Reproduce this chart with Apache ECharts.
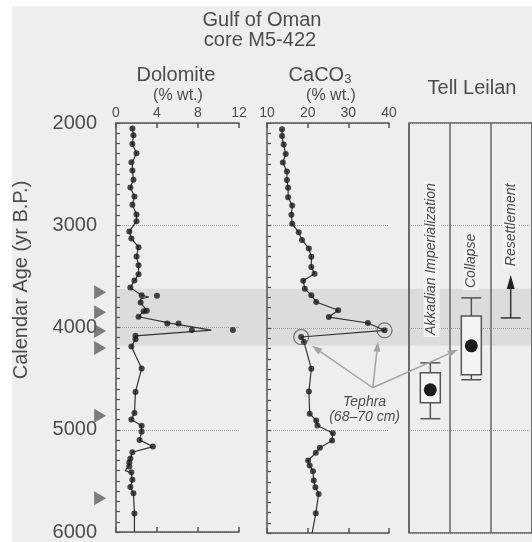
<!DOCTYPE html>
<html>
<head>
<meta charset="utf-8">
<script src="https://cdn.jsdelivr.net/npm/echarts@6.0.0/dist/echarts.min.js"></script>
<style>
html, body { margin: 0; padding: 0; background: #fff; }
#chart { width: 532px; height: 542px; }
</style>
</head>
<body>
<div id="chart"></div>
<script>
var FONT = '"Liberation Sans", Arial, sans-serif',
    TEXT = '#4d4d4d',
    AXIS = '#555';

// Dolomite (% wt.) samples: [age yr B.P., value]
var dolomitePoints = [
    [2055, 1.6], [2120, 1.7], [2205, 1.6], [2295, 2.0], [2385, 1.5], [2465, 1.6],
    [2555, 1.7], [2630, 1.4], [2720, 1.8], [2800, 1.6], [2895, 2.0], [2960, 2.0],
    [3060, 1.3], [3130, 1.5], [3215, 2.2], [3305, 2.0], [3390, 2.2], [3480, 2.2],
    [3540, 1.8], [3610, 1.4], [3685, 2.5], [3690, 4.0], [3755, 2.4], [3835, 3.0],
    [3840, 2.7], [3895, 2.2], [3960, 5.0], [3960, 6.1], [4025, 7.4], [4025, 11.4],
    [4080, 1.9], [4115, 1.9], [4185, 1.5], [4400, 2.5], [4630, 1.9], [4835, 1.8],
    [4900, 1.5], [4960, 2.5], [5020, 2.5], [5100, 2.3], [5165, 3.6], [5220, 1.6],
    [5280, 1.4], [5320, 1.3], [5360, 1.3], [5415, 1.5], [5490, 1.6], [5560, 1.4],
    [5620, 1.7], [5820, 1.8]
];
// smoothed dolomite curve
var dolomiteCurve = [
    [2055, 1.6], [2120, 1.7], [2205, 1.6], [2295, 2.0], [2385, 1.6], [2465, 1.6],
    [2555, 1.7], [2630, 1.4], [2720, 1.8], [2800, 1.6], [2895, 2.0], [2960, 2.0],
    [3060, 1.3], [3130, 1.5], [3215, 2.2], [3305, 2.0], [3390, 2.2], [3480, 2.2],
    [3540, 1.8], [3610, 1.4], [3685, 2.5], [3702, 3.2], [3720, 2.4], [3760, 2.4],
    [3830, 3.0], [3850, 2.6], [3895, 2.2], [3960, 5.4], [4026, 9.3], [4081, 1.9],
    [4115, 1.9], [4185, 1.5], [4400, 2.5], [4630, 1.9], [4835, 1.8], [4900, 1.5],
    [4960, 2.5], [5020, 2.5], [5100, 2.3], [5165, 3.6], [5220, 1.6], [5280, 1.4],
    [5360, 1.2], [5400, 0.9], [5420, 1.5], [5490, 1.6], [5560, 1.4], [5620, 1.7],
    [5820, 1.8], [6000, 1.8]
];
// CaCO3 (% wt.) samples: [age yr B.P., value]
var caco3Points = [
    [2062, 13.7], [2128, 13.7], [2210, 14.1], [2303, 14.6], [2385, 13.9], [2474, 14.9],
    [2556, 14.9], [2632, 15.2], [2724, 15.2], [2806, 16.2], [2895, 16.0], [2984, 16.2],
    [3066, 17.8], [3141, 18.6], [3224, 20.3], [3306, 20.9], [3405, 20.9], [3470, 21.7],
    [3540, 18.9], [3616, 19.3], [3681, 20.9], [3746, 22.1], [3827, 27.5], [3893, 25.2],
    [3951, 34.8], [4023, 38.9], [4088, 18.4], [4137, 19.1], [4397, 20.9], [4619, 20.3],
    [4837, 20.5], [4902, 22.1], [4951, 22.4], [5026, 26.2], [5098, 26.0], [5169, 23.0],
    [5218, 22.0], [5293, 20.1], [5342, 20.5], [5397, 21.3], [5489, 21.5], [5554, 21.9],
    [5619, 22.7], [5808, 22.0]
];
var caco3End = [6000, 21.1];
// tephra layer (68-70 cm)
var tephraPoints = [[4023, 38.9], [4088, 18.4]];
// dated levels (triangles on the age axis)
var datedAges = [3655, 3850, 4035, 4200, 4863, 5671];
// dry event band
var eventBand = [3620, 4175];

// Tell Leilan: [column, whisker top, box top, mean, box bottom, whisker bottom]
var leilanBoxes = [
    [0.52, 4340, 4437, 4603, 4729, 4885],
    [1.52, 3706, 3882, 4174, 4456, 4505]
];
var resettlement = [[2.48, 3902, 3483]];   // [column, base, arrow tip]
var leilanPhases = ['Akkadian Imperialization', 'Collapse', 'Resettlement'];
var phaseLabelPos = [[0.55, 4088], [1.52, 3630], [2.48, 3416]];

var ageTicks = { min: 2000, max: 6000, interval: 1000, minor: 100 };

function flip(list) {
    return list.map(function (d) { return [d[1], d[0]]; });
}

function ageAxis(gridIndex, showLabels) {
    return {
        type: 'value', gridIndex: gridIndex, inverse: true, position: 'left',
        min: ageTicks.min, max: ageTicks.max, interval: ageTicks.interval,
        axisLine: { show: gridIndex < 2, lineStyle: { color: AXIS, width: 1.5 } },
        axisTick: { show: false },
        axisLabel: { show: showLabels, fontSize: 20, color: TEXT, fontFamily: FONT, margin: 19,
                     formatter: function (v) { return String(v); } },
        splitLine: { show: true, lineStyle: { color: '#9a9a9a', type: 'dotted', width: 1 } }
    };
}

// 100-yr inward ticks on the age axis
function ageTickAxis(gridIndex) {
    return {
        type: 'value', gridIndex: gridIndex, inverse: true, position: 'left',
        min: ageTicks.min, max: ageTicks.max, interval: ageTicks.minor,
        axisLine: { show: false },
        axisTick: { show: true, inside: true, length: 4, lineStyle: { color: AXIS, width: 1.2 } },
        axisLabel: { show: false },
        splitLine: { show: false }
    };
}

function pctAxis(gridIndex, pos, min, max, interval, showLabels) {
    return {
        type: 'value', gridIndex: gridIndex, position: pos,
        min: min, max: max, interval: interval,
        axisLine: { show: true, onZero: false, lineStyle: { color: AXIS, width: 1.5 } },
        axisTick: { show: true, inside: true, length: 5, lineStyle: { color: AXIS, width: 1.5 } },
        axisLabel: { show: showLabels, fontSize: 14, color: TEXT, fontFamily: FONT, margin: 3 },
        splitLine: { show: false }
    };
}

function renderBox(params, api) {
    var col = api.value(0);
    var cTop = api.coord([col, api.value(1)]),
        bTop = api.coord([col, api.value(2)]),
        mid = api.coord([col, api.value(3)]),
        bBot = api.coord([col, api.value(4)]),
        cBot = api.coord([col, api.value(5)]);
    var x = cTop[0], hw = 10;
    var st = { stroke: AXIS, lineWidth: 1.5 };
    return {
        type: 'group',
        children: [
            { type: 'line', shape: { x1: x, y1: cTop[1], x2: x, y2: bTop[1] }, style: st },
            { type: 'line', shape: { x1: x - hw, y1: cTop[1], x2: x + hw, y2: cTop[1] }, style: st },
            { type: 'line', shape: { x1: x, y1: bBot[1], x2: x, y2: cBot[1] }, style: st },
            { type: 'line', shape: { x1: x - hw, y1: cBot[1], x2: x + hw, y2: cBot[1] }, style: st },
            { type: 'rect', shape: { x: x - hw, y: bTop[1], width: 2 * hw, height: bBot[1] - bTop[1] },
              style: { stroke: AXIS, lineWidth: 1.5, fill: '#f4f4f4' } },
            { type: 'circle', shape: { cx: x, cy: mid[1], r: 6.5 }, style: { fill: '#1c1c1c' } }
        ]
    };
}

function renderUpArrow(params, api) {
    var base = api.coord([api.value(0), api.value(1)]),
        tip = api.coord([api.value(0), api.value(2)]);
    var x = base[0];
    return {
        type: 'group',
        children: [
            { type: 'line', shape: { x1: x - 10, y1: base[1], x2: x + 10, y2: base[1] }, style: { stroke: '#333', lineWidth: 1.5 } },
            { type: 'line', shape: { x1: x, y1: base[1], x2: x, y2: tip[1] + 12 }, style: { stroke: '#333', lineWidth: 1.5 } },
            { type: 'polygon', shape: { points: [[x, tip[1]], [x - 4, tip[1] + 14], [x + 4, tip[1] + 14]] }, style: { fill: '#222' } }
        ]
    };
}

function renderPhase(params, api) {
    var p = api.coord([api.value(0), api.value(1)]);
    return {
        type: 'text', x: p[0], y: p[1], rotation: Math.PI / 2,
        style: {
            text: leilanPhases[params.dataIndex], font: 'italic 14px ' + FONT, fill: TEXT,
            align: 'left', verticalAlign: 'middle', backgroundColor: '#f3f3f3', padding: [1, 2]
        }
    };
}

var option = {
    backgroundColor: '#eeeeee',
    animation: false,
    grid: [
        { left: 116, top: 123, width: 123, height: 410 },
        { left: 267, top: 123, width: 122, height: 410 },
        { left: 409, top: 123, width: 126, height: 410, show: true, borderColor: AXIS, borderWidth: 1.5, backgroundColor: 'transparent' }
    ],
    xAxis: [
        pctAxis(0, 'top', 0, 12, 4, true),
        pctAxis(0, 'bottom', 0, 12, 4, false),
        pctAxis(1, 'top', 10, 40, 10, true),
        pctAxis(1, 'bottom', 10, 40, 10, false),
        {
            type: 'value', gridIndex: 2, min: 0, max: 3, interval: 1, position: 'top',
            axisLine: { show: false }, axisTick: { show: false }, axisLabel: { show: false },
            splitLine: { show: true, lineStyle: { color: '#666', width: 1.5 } }
        }
    ],
    yAxis: [ageAxis(0, true), ageAxis(1, false), ageAxis(2, false), ageTickAxis(0), ageTickAxis(1)],
    series: [
        {
            type: 'line', xAxisIndex: 0, yAxisIndex: 0, data: flip(dolomiteCurve),
            showSymbol: false, lineStyle: { color: '#333', width: 1.2 }, z: 3
        },
        {
            type: 'scatter', xAxisIndex: 0, yAxisIndex: 0, data: flip(dolomitePoints),
            symbolSize: 6, itemStyle: { color: '#1c1c1c' }, z: 4
        },
        {
            type: 'scatter', xAxisIndex: 0, yAxisIndex: 0, clip: false,
            data: datedAges.map(function (a) { return [-1.55, a]; }),
            symbol: 'triangle', symbolRotate: -90, symbolSize: [14, 12],
            itemStyle: { color: '#5f5f5f' }
        },
        {
            type: 'line', xAxisIndex: 2, yAxisIndex: 1, data: flip(caco3Points.concat([caco3End])),
            showSymbol: false, lineStyle: { color: '#333', width: 1.2 }, z: 3
        },
        {
            type: 'scatter', xAxisIndex: 2, yAxisIndex: 1, data: flip(caco3Points),
            symbolSize: 6, itemStyle: { color: '#1c1c1c' }, z: 4
        },
        {
            type: 'scatter', xAxisIndex: 2, yAxisIndex: 1, data: flip(tephraPoints),
            symbol: 'circle', symbolSize: 15,
            itemStyle: { color: 'rgba(0,0,0,0)', borderColor: '#555', borderWidth: 1.2 }, z: 5
        },
        {
            type: 'custom', xAxisIndex: 4, yAxisIndex: 2, data: phaseLabelPos,
            renderItem: renderPhase, z: 3
        },
        {
            type: 'custom', xAxisIndex: 4, yAxisIndex: 2, data: leilanBoxes,
            encode: { x: 0, y: [1, 2, 3, 4, 5] }, renderItem: renderBox, z: 4
        },
        {
            type: 'custom', xAxisIndex: 4, yAxisIndex: 2, data: resettlement,
            encode: { x: 0, y: [1, 2] }, renderItem: renderUpArrow, z: 4
        }
    ]
};

var chart = echarts.init(document.getElementById('chart'));
chart.setOption(option);

function px(grid, x, age) {
    return chart.convertToPixel({ gridIndex: grid }, [x, age]);
}

function arrow(p0, p1) {
    var dx = p1[0] - p0[0], dy = p1[1] - p0[1];
    var len = Math.sqrt(dx * dx + dy * dy), ux = dx / len, uy = dy / len;
    var hl = 10, hw = 3.5;
    var bx = p1[0] - ux * hl, by = p1[1] - uy * hl;
    return [
        { type: 'line', shape: { x1: p0[0], y1: p0[1], x2: bx, y2: by },
          style: { stroke: '#a3a3a3', lineWidth: 1.5 }, z: 20 },
        { type: 'polygon', shape: { points: [p1, [bx - uy * hw, by + ux * hw], [bx + uy * hw, by - ux * hw]] },
          style: { fill: '#a3a3a3' }, z: 20 }
    ];
}

var bandTop = px(0, 0, eventBand[0]), bandBot = px(0, 0, eventBand[1]);
var origin = px(1, 36.0, 4583);
var textA = px(1, 34.0, 4720), textB = px(1, 34.0, 4866);

var graphics = [
    { type: 'rect', shape: { x: 0, y: 0, width: 532, height: 6 }, style: { fill: '#fff' }, z: -10 },
    { type: 'rect', shape: { x: 0, y: 0, width: 12, height: 542 }, style: { fill: '#fff' }, z: -10 },
    { type: 'rect', shape: { x: bandTop[0], y: bandTop[1], width: 532 - bandTop[0], height: bandBot[1] - bandTop[1] },
      style: { fill: '#dcdcdc' }, z: -5, silent: true },
    { type: 'text', x: 262, y: 20, style: { text: 'Gulf of Oman', font: '20px ' + FONT, fill: TEXT, align: 'center', verticalAlign: 'middle' } },
    { type: 'text', x: 260, y: 40, style: { text: 'core M5-422', font: '20px ' + FONT, fill: TEXT, align: 'center', verticalAlign: 'middle' } },
    { type: 'text', x: 176, y: 75, style: { text: 'Dolomite', font: '20px ' + FONT, fill: TEXT, align: 'center', verticalAlign: 'middle' } },
    { type: 'text', x: 178, y: 96, style: { text: '(% wt.)', font: '16px ' + FONT, fill: TEXT, align: 'center', verticalAlign: 'middle' } },
    { type: 'text', x: 320, y: 75, style: {
        text: '{a|CaCO}{s|3}', align: 'center', verticalAlign: 'middle',
        rich: { a: { font: '20px ' + FONT, fill: TEXT, verticalAlign: 'middle' },
                s: { font: '13px ' + FONT, fill: TEXT, padding: [8, 0, 0, 0] } } } },
    { type: 'text', x: 331, y: 96, style: { text: '(% wt.)', font: '16px ' + FONT, fill: TEXT, align: 'center', verticalAlign: 'middle' } },
    { type: 'text', x: 472, y: 88, style: { text: 'Tell Leilan', font: '20px ' + FONT, fill: TEXT, align: 'center', verticalAlign: 'middle' } },
    { type: 'text', x: 21, y: 280, rotation: Math.PI / 2,
      style: { text: 'Calendar Age (yr B.P.)', font: '20px ' + FONT, fill: TEXT, align: 'center', verticalAlign: 'middle' } },
    { type: 'text', x: textA[0], y: textA[1], style: { text: 'Tephra', font: 'italic 14px ' + FONT, fill: TEXT, align: 'center', verticalAlign: 'middle' }, z: 20 },
    { type: 'text', x: textB[0], y: textB[1], style: { text: '(68\u201370 cm)', font: 'italic 14px ' + FONT, fill: TEXT, align: 'center', verticalAlign: 'middle' }, z: 20 }
];
graphics = graphics
    .concat(arrow(origin, px(1, 21.1, 4174)))
    .concat(arrow(origin, px(1, 37.3, 4134)))
    .concat(arrow(origin, px(2, 1.19, 4213)));

chart.setOption({ graphic: graphics });
</script>
</body>
</html>
